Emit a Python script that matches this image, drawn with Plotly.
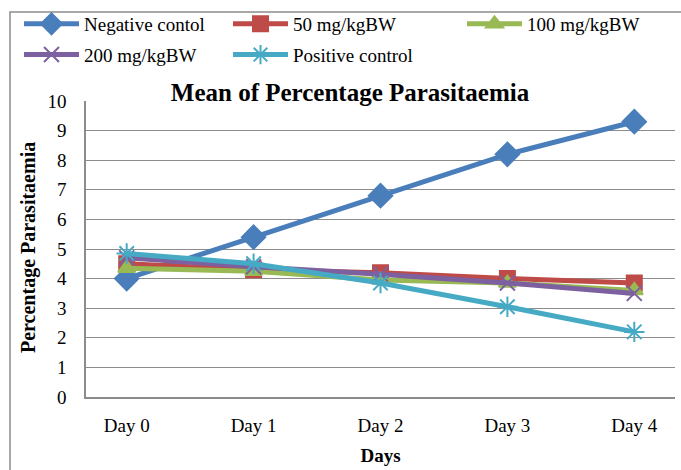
import plotly.graph_objects as go

days = ["Day 0", "Day 1", "Day 2", "Day 3", "Day 4"]
negative_control = [4.0, 5.4, 6.8, 8.2, 9.3]
mg50 = [4.5, 4.3, 4.2, 4.0, 3.85]
mg100 = [4.35, 4.25, 3.95, 3.85, 3.6]
mg200 = [4.7, 4.4, 4.15, 3.85, 3.5]
positive_control = [4.85, 4.5, 3.85, 3.05, 2.2]

names = ["Negative contol", "50 mg/kgBW", "100 mg/kgBW", "200 mg/kgBW", "Positive control"]
colors = ["#4A7EBB", "#BE4B48", "#98B954", "#7D60A0", "#46AAC5"]
symbols = ["diamond", "square", "triangle-up", "x-thin-open", "asterisk-open"]
sizes = [18, 15, 15, 15, 17]
legends = ["legend", "legend2", "legend3", "legend", "legend2"]
series = [negative_control, mg50, mg100, mg200, positive_control]

FONT = "Liberation Serif, Times New Roman, serif"

fig = go.Figure()
for i, (n, c, s, sz, lg, ys) in enumerate(zip(names, colors, symbols, sizes, legends, series)):
    fig.add_trace(go.Scatter(
        x=days, y=ys, name=n, mode="lines+markers", legend=lg, legendgroup=f"g{i}",
        line=dict(color=c, width=5),
        marker=dict(symbol=s, size=sz, color=c, line=dict(color=c, width=2)),
    ))

L, R, T, B = 86, 675, 101, 397
W, H = 681, 470

def leg(xpx):
    return dict(orientation="v", xref="container", yref="container",
                x=xpx / W, y=1 - 5 / H, xanchor="left", yanchor="top",
                font=dict(family=FONT, size=19, color="black"), tracegroupgap=3,
                itemwidth=55, bgcolor="rgba(0,0,0,0)", borderwidth=0)

fig.update_layout(
    width=W, height=H,
    margin=dict(l=L, r=W - R, t=T, b=H - B, autoexpand=False),
    paper_bgcolor="white", plot_bgcolor="white",
    font=dict(family=FONT, size=19, color="black"),
    title=dict(text="<b>Mean of Percentage Parasitaemia</b>", x=350 / W, xanchor="center",
               y=1 - 92 / H, yanchor="middle", yref="container",
               font=dict(family=FONT, size=25, color="black")),
    legend=leg(19),
    legend2=leg(228),
    legend3=leg(462),
    xaxis=dict(showgrid=False, showline=True, linecolor="#8C8C8C", linewidth=1.5,
               ticks="outside", ticklen=10, tickcolor="rgba(0,0,0,0)",
               tickfont=dict(family=FONT, size=19),
               title=dict(text="<b>Days</b>", font=dict(family=FONT, size=19), standoff=14)),
    yaxis=dict(range=[0, 10], dtick=1, showgrid=True, gridcolor="#8C8C8C", gridwidth=1.2,
               showline=True, linecolor="#8C8C8C", linewidth=1.5, zeroline=False,
               ticks="outside", ticklen=14, tickcolor="rgba(0,0,0,0)",
               tickfont=dict(family=FONT, size=19)),
    showlegend=True,
)
fig.add_annotation(text="<b>Percentage Parasitaemia</b>", textangle=-90,
                   xref="paper", yref="paper", x=(28 - L) / (R - L), y=(B - 248) / (B - T),
                   xanchor="center", yanchor="middle", showarrow=False,
                   font=dict(family=FONT, size=20, color="black"))
fig.add_shape(type="rect", xref="paper", yref="paper",
              x0=(10 - L) / (R - L), x1=(720 - L) / (R - L),
              y0=(B - 520) / (B - T), y1=(B - 12) / (B - T),
              line=dict(color="#8C8C8C", width=1.5), layer="below")

fig.write_html("out.html", config={"displayModeBar": False},
               post_script="document.body.style.margin='0';")
